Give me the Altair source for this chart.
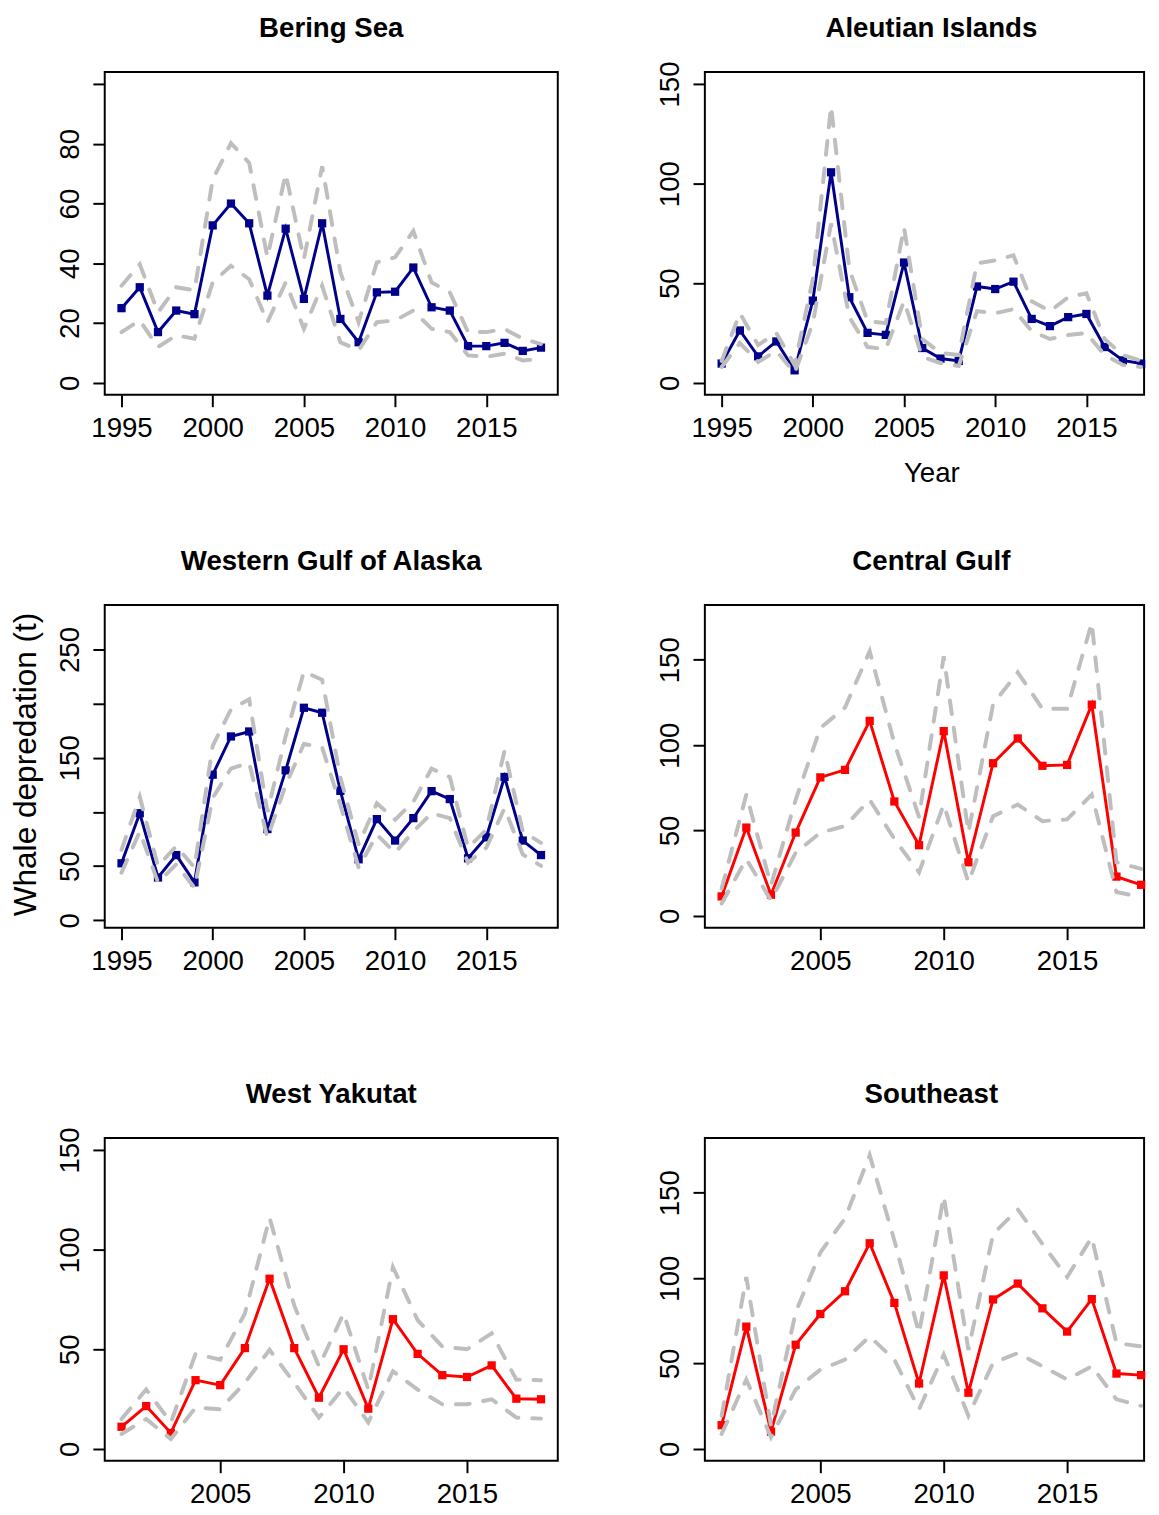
import altair as alt
import pandas as pd

# ---------------- data ----------------
years_long = [1995, 1996, 1997, 1998, 1999, 2000, 2001, 2002, 2003, 2004, 2005, 2006,
              2007, 2008, 2009, 2010, 2011, 2012, 2013, 2014, 2015, 2016, 2017, 2018]
years_short = [2001, 2002, 2003, 2004, 2005, 2006, 2007, 2008, 2009, 2010, 2011, 2012,
               2013, 2014, 2015, 2016, 2017, 2018]

bering_est = [25, 32, 17, 24.2, 23, 52.7, 60, 53.4, 29.2, 51.6, 28.1, 53.4,
              21.4, 13.6, 30.3, 30.5, 38.6, 25.3, 24.2, 12.3, 12.3, 13.4, 10.7, 11.8]
bering_hi = [32.5, 39.7, 23.6, 32, 31, 68, 80.2, 73.6, 42, 70, 41.4, 72.5,
             37, 20.3, 40.3, 42, 50.8, 33.6, 30.3, 17, 17, 18, 14.8, 13]
bering_lo = [17, 20.9, 12, 15.9, 14.8, 33.6, 39.2, 34.7, 20.3, 33.6, 18.1, 32.5,
             13.6, 10.9, 20.3, 20.9, 24.2, 18.1, 17, 9.2, 8.7, 9.8, 7.5, 8.1]

aleut_est = [9.7, 26.3, 13.3, 20.8, 6.3, 41.3, 105.7, 43, 25.1, 24.1, 60.4, 17.5,
             12.2, 11, 48.4, 47.1, 50.8, 32.1, 28.5, 33, 34.6, 18, 11.3, 9.7]
aleut_hi = [11, 35, 19, 25, 9, 52, 139, 57, 31, 30, 78, 22,
            15, 14, 60, 61.5, 64, 41, 36, 43, 45, 22, 14, 11]
aleut_lo = [8, 20, 10.5, 16, 5, 30, 80, 33, 18, 17, 41, 13,
            10, 8.5, 36, 35, 37, 26, 22, 24, 25, 14, 9, 8]

wgoa_est = [52.6, 98.8, 39.5, 60.2, 35, 134.4, 169.7, 174.3, 84.2, 138.4, 196.2, 191.6,
            119.5, 56.3, 93.4, 73.6, 94.3, 119.2, 111.9, 57.2, 76.6, 132.3, 73.6, 60.2]
wgoa_hi = [65, 114, 50, 68.4, 48.7, 161, 194.6, 204, 100, 170, 229.6, 222,
           132, 70, 108, 92.8, 109.5, 140, 132.3, 67, 83.6, 156.6, 82, 71.5]
wgoa_lo = [44, 82, 35, 51.7, 30, 113, 140, 145.4, 76, 124.7, 162.7, 159.7,
           106.4, 48.7, 79, 62.3, 82, 98.8, 94.3, 53.2, 67, 103.4, 60.8, 50.2]

cgoa_est = [11.4, 51.7, 12.4, 48.8, 81.1, 85.5, 114.2, 67, 41.4, 108.2, 31.4, 89.4,
            103.9, 87.9, 88.4, 123.7, 23, 18.2]
cgoa_hi = [16, 71, 18, 68, 110, 122, 155, 101, 58, 152, 48.8, 124,
           142.6, 121.3, 121.3, 171.7, 31.4, 27.5]
cgoa_lo = [7.2, 33.3, 9.1, 37, 48.8, 52.6, 68, 45, 25.5, 65.2, 19.7, 58.4,
           65.2, 55.5, 56.5, 71, 14, 11]

wy_est = [11.1, 21.5, 8, 34.5, 32, 50.6, 85.4, 50.6, 25.7, 50, 20.2, 65.1,
          47.7, 37, 36.1, 41.9, 25.2, 24.9]
wy_hi = [15, 29.8, 13.3, 47.7, 44.8, 68, 116, 72, 41.4, 68, 29.8, 91.2,
         64.6, 51.4, 50, 58, 34.8, 34.5]
wy_lo = [7.5, 15, 5, 20.7, 19.9, 33.2, 49.7, 33.2, 15.7, 30.7, 13.3, 39,
         29.8, 22.4, 22.4, 24.9, 15.7, 15.2]

se_est = [13.9, 71.6, 10.1, 61, 79, 92.3, 120.4, 85.5, 38.3, 101.6, 32.9, 87.5,
          96.8, 82.3, 68.7, 87.7, 44.1, 43.2]
se_hi = [19.4, 100.6, 13.5, 80, 115, 135, 172, 122, 67.7, 148, 58, 125.8,
         140.3, 120, 100.6, 123.9, 62, 60]
se_lo = [8.7, 40.6, 6.8, 34.8, 46.4, 52.3, 65.8, 52.3, 23.2, 55.2, 19.4, 50.3,
         56.1, 48.4, 40.6, 48.4, 29, 25.2]

x_ticks_long = [1995, 2000, 2005, 2010, 2015]
x_ticks_short = [2005, 2010, 2015]

# ---------------- styling ----------------
FONT = "Liberation Sans"
NAVY = "#00008B"
RED = "#FF0000"
GRAY = "#BEBEBE"
W_LEFT, W_RIGHT, H = 459, 445, 327
BOX_CENTER = 229.5
PX_LONG = 459 / 24.84   # px per year, 1995-2018 panels
PX_SHORT = 459 / 18.36  # px per year, 2001-2018 panels


def panel(title, years, est, lo, hi, color, width, xdom, xticks, ydom, yticks, ylabels,
          xtitle=None, ytitle=None):
    df = pd.DataFrame({"year": years, "est": est, "lo": lo, "hi": hi})

    xaxis_kw = dict(values=xticks, format="d")
    xkw = {}
    if xtitle:
        xaxis_kw.update(titleX=BOX_CENTER, titleY=88, titleBaseline="alphabetic",
                        titleAlign="center", titleAngle=0, titleFontSize=28)
        xkw["title"] = xtitle
    else:
        xkw["title"] = None
    x = alt.X("year:Q", scale=alt.Scale(domain=xdom, nice=False, zero=False),
              axis=alt.Axis(**xaxis_kw), **xkw)

    shown = ",".join(str(v) for v in ylabels)
    yaxis_kw = dict(values=yticks,
                    labelExpr="indexof([" + shown + "], datum.value) >= 0 ? datum.label : ''")
    ykw = {}
    if ytitle:
        yaxis_kw.update(titleX=-70, titleY=161, titleAngle=270, titleBaseline="alphabetic",
                        titleAlign="center", titleFontSize=32)
        ykw["title"] = ytitle
    else:
        ykw["title"] = None

    def y(field):
        return alt.Y(field, scale=alt.Scale(domain=ydom, nice=False, zero=False),
                     axis=alt.Axis(**yaxis_kw), **ykw)

    base = alt.Chart(df)
    line = base.mark_line(color=color, strokeWidth=3).encode(x=x, y=y("est:Q"))
    pts = base.mark_square(color=color, size=70, opacity=1).encode(x=x, y=y("est:Q"))
    bands = base.transform_fold(["lo", "hi"], as_=["key", "val"]).mark_line(
        color=GRAY, strokeWidth=4, strokeDash=[14, 14], strokeCap="round"
    ).encode(x=x, y=y("val:Q"), detail="key:N")
    head = alt.Chart(pd.DataFrame({"label": [title]})).mark_text(
        font=FONT, fontSize=28, fontWeight="bold", color="black",
        align="center", baseline="alphabetic"
    ).encode(text="label:N", x=alt.value(BOX_CENTER), y=alt.value(-35.7))

    return alt.layer(line, pts, bands, head).properties(width=width, height=H)


xl = [1994.08, 2018.92]
xl_r = [1994.08, 1994.08 + W_RIGHT / PX_LONG]
xs = [2000.32, 2018.68]
xs_r = [2000.32, 2000.32 + W_RIGHT / PX_SHORT]

p1 = panel("Bering Sea", years_long, bering_est, bering_lo, bering_hi, NAVY, W_LEFT, xl,
           x_ticks_long, [-4, 104], [0, 20, 40, 60, 80, 100], [0, 20, 40, 60, 80])
p2 = panel("Aleutian Islands", years_long, aleut_est, aleut_lo, aleut_hi, NAVY, W_RIGHT, xl_r,
           x_ticks_long, [-6, 156], [0, 50, 100, 150], [0, 50, 100, 150], xtitle="Year")
p3 = panel("Western Gulf of Alaska", years_long, wgoa_est, wgoa_lo, wgoa_hi, NAVY, W_LEFT, xl,
           x_ticks_long, [-7, 291], [0, 50, 100, 150, 200, 250], [0, 50, 150, 250],
           ytitle="Whale depredation (t)")
p4 = panel("Central Gulf", years_short, cgoa_est, cgoa_lo, cgoa_hi, RED, W_RIGHT, xs_r,
           x_ticks_short, [-7, 182], [0, 50, 100, 150], [0, 50, 100, 150])
p5 = panel("West Yakutat", years_short, wy_est, wy_lo, wy_hi, RED, W_LEFT, xs,
           x_ticks_short, [-6, 156], [0, 50, 100, 150], [0, 50, 100, 150])
p6 = panel("Southeast", years_short, se_est, se_lo, se_hi, RED, W_RIGHT, xs_r,
           x_ticks_short, [-7, 182], [0, 50, 100, 150], [0, 50, 100, 150])


def build(padding, row_gap, col_gap):
    return alt.concat(
        p1, p2, p3, p4, p5, p6, columns=2,
        spacing={"row": row_gap, "column": col_gap}, bounds="flush",
        padding=padding,
    ).resolve_scale(x="independent", y="independent").configure_view(
        stroke="black", strokeWidth=2
    ).configure_axis(
        grid=False, domain=False, ticks=True, tickColor="black", tickWidth=2, tickSize=12,
        labelFont=FONT, labelFontSize=28, labelColor="black", labelOverlap=False,
        labelFlush=False, titleFont=FONT, titleFontWeight="normal", titleColor="black",
    ).configure_axisX(
        labelPadding=8, labelAngle=0
    ).configure_axisY(
        labelAngle=270, labelAlign="center", labelBaseline="alphabetic", labelPadding=15
    )


try:
    chart = build({"left": 0, "top": -4, "right": 0, "bottom": 0}, 213, 149)
    chart.to_dict()
except Exception:
    chart = build({"left": 0, "top": 0, "right": 0, "bottom": 0}, 213, 149)

chart.save("out.html", embed_options={"renderer": "svg", "actions": False})
